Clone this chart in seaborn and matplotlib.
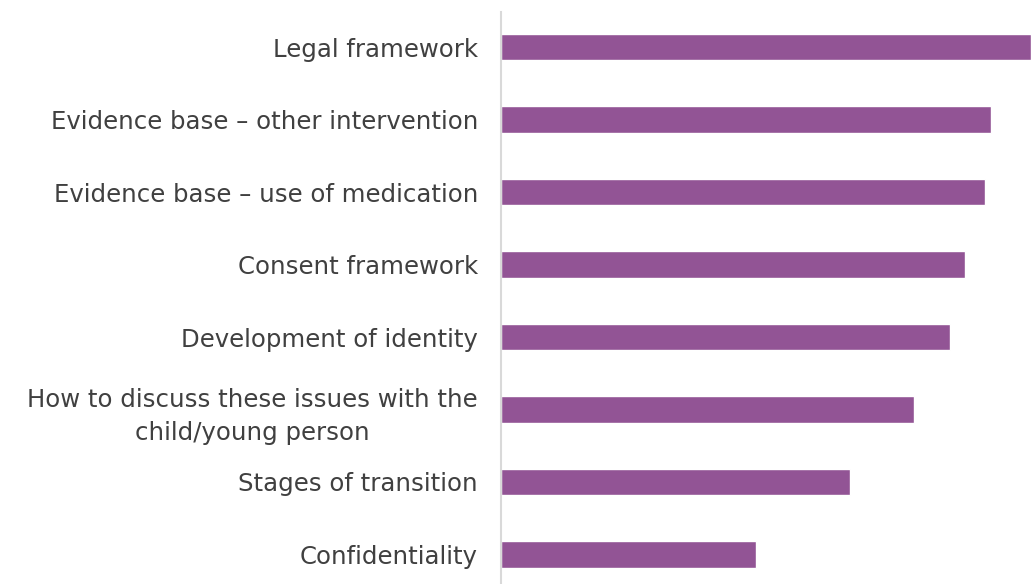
import matplotlib
matplotlib.use("Agg")
import matplotlib.pyplot as plt
import seaborn as sns
import pandas as pd

# Topics ranked by share of respondents
topics = [
    "Legal framework",
    "Evidence base \u2013 other intervention",
    "Evidence base \u2013 use of medication",
    "Consent framework",
    "Development of identity",
    "How to discuss these issues with the\nchild/young person",
    "Stages of transition",
    "Confidentiality",
]
shares = [100.0, 92.5, 91.3, 87.5, 84.7, 77.9, 65.8, 48.1]

df = pd.DataFrame({"topic": topics, "share": shares})

sns.set_theme(style="white")
plt.rcParams["font.family"] = ["DejaVu Sans"]

fig = plt.figure(figsize=(10.31, 5.84), dpi=100)
ax = fig.add_axes([501 / 1031, 0.0, 1 - 501 / 1031, (584 - 12) / 584])

sns.barplot(data=df, x="share", y="topic", orient="h", color="#925495",
            saturation=1, width=0.36, ax=ax)

ax.set_xlim(0, 100)
ax.set_ylim(7.407, -0.483)
ax.set_xlabel("")
ax.set_ylabel("")
ax.set_xticks([])

for side in ["top", "right", "bottom"]:
    ax.spines[side].set_visible(False)
ax.spines["left"].set_color("#D9D9D9")
ax.spines["left"].set_linewidth(1.5)

ax.tick_params(axis="y", length=0, pad=16.5, labelsize=17.6, labelcolor="#404040")
for lbl in ax.get_yticklabels():
    lbl.set_multialignment("center")
    lbl.set_linespacing(1.45)

fig.savefig("out.png", dpi=100)
